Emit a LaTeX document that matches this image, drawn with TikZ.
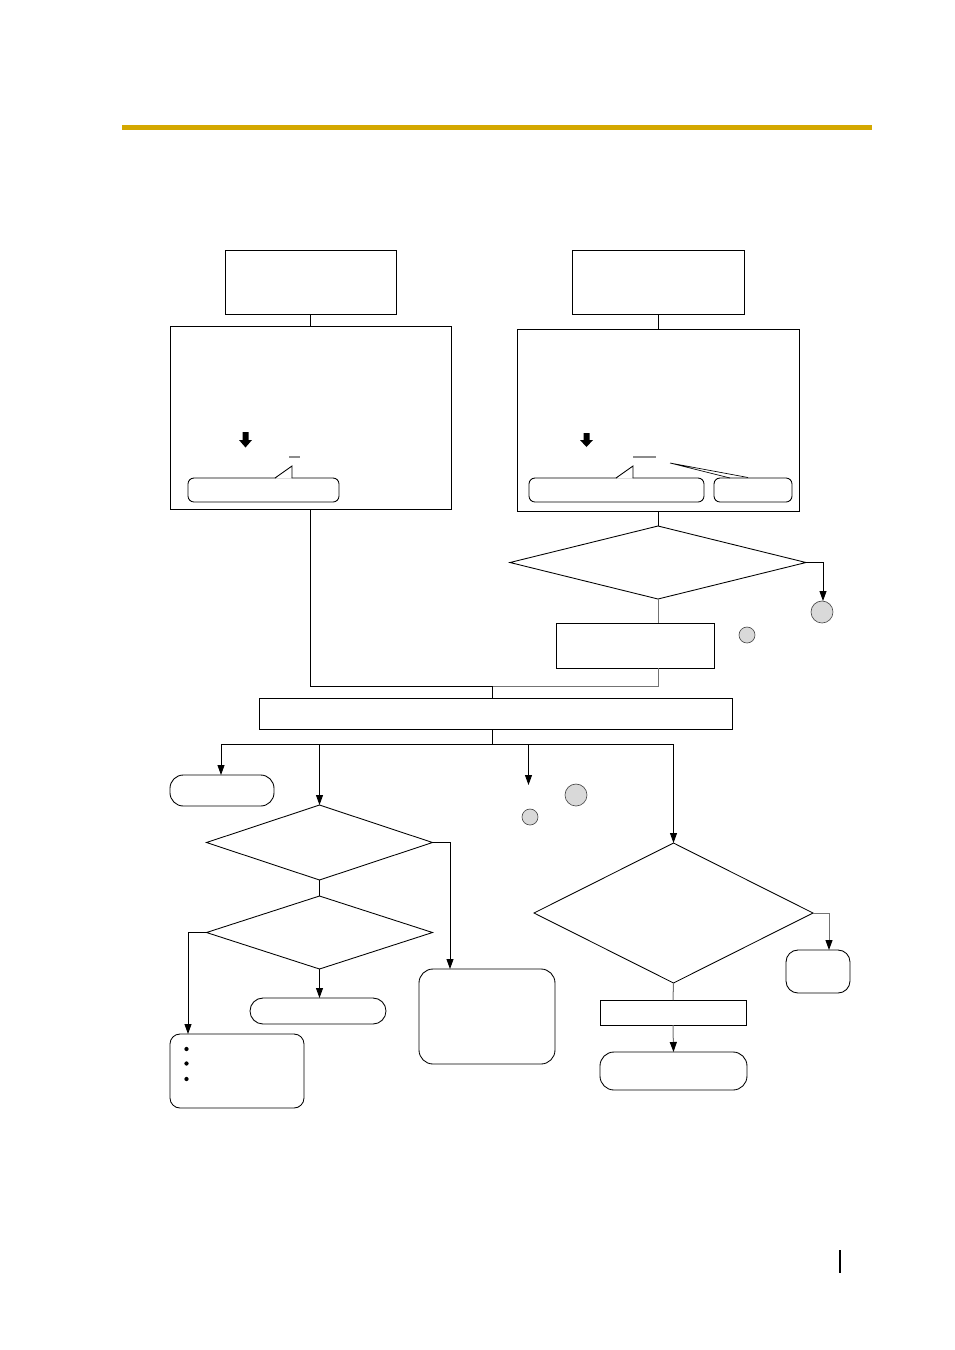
\documentclass[tikz,border=0pt]{standalone}
\usetikzlibrary{shapes.geometric,arrows.meta}
\definecolor{gold}{RGB}{212,168,0}
\definecolor{circfill}{RGB}{217,217,217}
\begin{document}
\begin{tikzpicture}[x=0.75pt,y=-0.75pt,
  sq/.style={draw, line width=0.65pt, inner sep=0pt, outer sep=0pt},
  rr/.style={sq, rounded corners=#1},
  dia/.style={draw, line width=0.65pt, diamond, inner sep=0pt, outer sep=0pt},
  circ/.style={draw=black!70, line width=0.5pt, circle, fill=circfill, inner sep=0pt, outer sep=0pt},
  con/.style={line width=0.65pt},
  gcon/.style={line width=0.75pt, draw=black!55},
  arr/.style={con, -{Triangle[length=7.5pt,width=5.25pt]}},
  garr/.style={gcon, -{Triangle[length=7.5pt,width=5.25pt,color=black]}}]
\useasboundingbox (0,0) rectangle (954,1350);
% header bar
\fill[gold] (122,125) rectangle (872,130);
% page mark
\draw[line width=0.9pt] (840,1250) -- (840,1273);

% top left
\node[sq, minimum width=128.25pt, minimum height=48pt] (a) at (310.5,282) {};
\node[sq, minimum width=210.75pt, minimum height=137.25pt] (b) at (310.5,417.5) {};
\node[rr=4.5pt, minimum width=113.25pt, minimum height=18pt] (b1) at (263.5,490) {};
\fill (242.5,432) -- (248.5,432) -- (248.5,440) -- (252,440) -- (245.5,447.5) -- (239,440) -- (242.5,440) -- cycle;
\draw[line width=1.4pt, black!45] (289,457) -- (300,457);
\fill[white] (275.5,478.6) -- (292,466) -- (291.6,478.6) -- cycle;
\draw[con] (275,478) -- (292,466) -- (292,478);

% top right
\node[sq, minimum width=129pt, minimum height=48pt] (c) at (658,282) {};
\node[sq, minimum width=211.5pt, minimum height=136.5pt] (d) at (658,420) {};
\node[rr=4.5pt, minimum width=131.25pt, minimum height=18pt] (d1) at (616.5,490) {};
\node[rr=4.5pt, minimum width=58.5pt, minimum height=18pt] (d2) at (753,490) {};
\fill (583.5,433) -- (589.5,433) -- (589.5,440) -- (593,440) -- (586.5,447) -- (580,440) -- (583.5,440) -- cycle;
\draw[line width=1.4pt, black!45] (633,457) -- (656,457);
\fill[white] (616.5,478.6) -- (633,466) -- (632.6,478.6) -- cycle;
\draw[con] (616,478) -- (633,466) -- (633,478);
\coordinate (pv) at (670,463);
\coordinate (pa) at (730,478);
\coordinate (pb) at (748,477.5);
\draw[line width=0.5pt] (pv) -- (pa) (pv) -- (pb);

\node[dia, minimum width=222pt, minimum height=54.75pt] (q1) at (658,562.5) {};
\node[circ, minimum size=16.5pt] (c1) at (822,612) {};
\node[sq, minimum width=118.5pt, minimum height=33.75pt] (e) at (635,645.5) {};
\node[circ, minimum size=12pt] (c2) at (747,635) {};

\node[sq, minimum width=354.75pt, minimum height=23.25pt] (f) at (495.5,713.5) {};

% lower
\node[rr=10pt, minimum width=78pt, minimum height=23.25pt] (g) at (222,790.5) {};
\node[circ, minimum size=16.5pt] (c3) at (576,795) {};
\node[circ, minimum size=12pt] (c4) at (530,817) {};
\node[dia, minimum width=169.5pt, minimum height=56.25pt] (q2) at (319.5,842.5) {};
\node[dia, minimum width=169.5pt, minimum height=54.75pt] (q3) at (319.5,932.5) {};
\node[rr=9.75pt, minimum width=102pt, minimum height=19.5pt] (i) at (318,1011) {};
\node[rr=7.5pt, minimum width=100.5pt, minimum height=55.5pt] (j) at (237,1071) {};
\fill (186.5,1049) circle (1.6pt) (186.5,1063.5) circle (1.6pt) (186.5,1079) circle (1.6pt);
\node[rr=10.5pt, minimum width=102pt, minimum height=71.25pt] (h) at (487,1016.5) {};
\node[dia, minimum width=209.25pt, minimum height=105pt] (q4) at (673.5,913) {};
\node[rr=9pt, minimum width=48pt, minimum height=32.25pt] (k) at (818,971.5) {};
\node[sq, minimum width=109.5pt, minimum height=18.75pt] (l) at (673,1012.5) {};
\node[rr=10.5pt, minimum width=110.25pt, minimum height=28.5pt] (m) at (673.5,1071) {};

% connectors top
\draw[con] (a.south) -- (b.north);
\draw[con] (c.south) -- (d.north);
\draw[con] (d.south) -- (q1.north);
\draw[arr] (q1.east) -| ([xshift=0.75pt]c1.north);
\draw[gcon] (q1.south) -- (q1.south |- e.north);
\coordinate (j1) at (492,686);
\draw[con] (b.south) |- (j1);
\draw[gcon] (q1.south |- e.south) |- (j1);
\draw[con] (j1) -- (j1 |- f.north);

% connectors lower
\coordinate (j2) at (492,744);
\coordinate (fe) at (528.5,785);
\draw[con] (j1 |- f.south) -- (j2);
\draw[arr] (j2) -| ([xshift=-0.75pt]g.north);
\draw[arr] (j2) -| (q2.north);
\draw[arr] (j2) -| (fe);
\draw[arr] (j2) -| (q4.north);
\draw[arr] (q2.east) -| ([xshift=23.25pt]h.north west);
\draw[con] (q2.south) -- (q3.north);
\draw[arr] (q3.south) -- (q3.south |- i.north);
\draw[arr] (q3.west) -| ([xshift=13.5pt]j.north west);
\draw[garr] (q4.east) -| ([xshift=32.25pt]k.north west);
\draw[gcon] (q4.south) -- (l.north);
\draw[garr] (l.south) -- (m.north);
\end{tikzpicture}
\end{document}
